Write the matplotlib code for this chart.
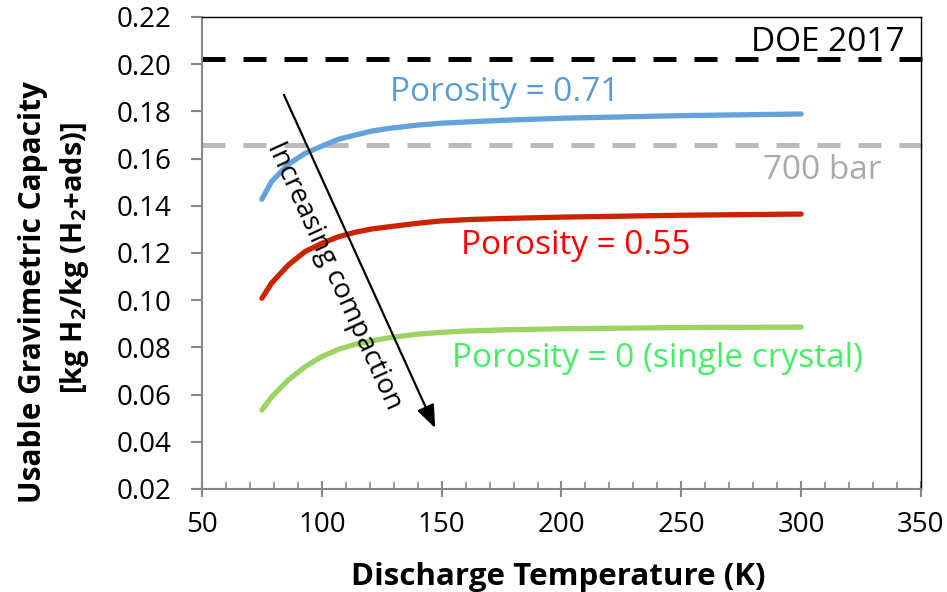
import numpy as np
import matplotlib
matplotlib.use('Agg')
import matplotlib.pyplot as plt
from matplotlib.ticker import MultipleLocator

#---------------------- DATA
temp     = [75, 79, 86, 93, 100, 107, 114, 121, 128, 140, 150, 162, 175, 200, 250, 300]
por_071  = [0.1428, 0.1502, 0.1576, 0.1622, 0.1653, 0.1682, 0.1700, 0.1717, 0.1728, 0.1742,
            0.1750, 0.1756, 0.1762, 0.1771, 0.1782, 0.1789]
por_055  = [0.1008, 0.1072, 0.1149, 0.1206, 0.1241, 0.1269, 0.1288, 0.1302, 0.1311, 0.1326,
            0.1336, 0.1342, 0.1346, 0.1352, 0.1360, 0.1365]
por_000  = [0.0535, 0.0589, 0.0662, 0.0718, 0.0761, 0.0792, 0.0813, 0.0828, 0.0841, 0.0856,
            0.0864, 0.0870, 0.0874, 0.0879, 0.0884, 0.0886]

doe_2017 = 0.202
bar_700  = 0.1658

xticks = [50, 100, 150, 200, 250, 300, 350]
yticks = [0.02, 0.04, 0.06, 0.08, 0.10, 0.12, 0.14, 0.16, 0.18, 0.20, 0.22]

##------------------------PLOTTING
plt.rcParams['font.family'] = ['Open Sans', 'DejaVu Sans']
plt.rcParams['mathtext.fontset'] = 'custom'
plt.rcParams['mathtext.rm'] = 'Open Sans'
plt.rcParams['mathtext.bf'] = 'Open Sans:bold'

fig = plt.figure(figsize=(9.47, 5.92), dpi=100)
ax = fig.add_axes([0.2133, 0.174, 0.7592, 0.7973])

# reference lines
ax.axhline(doe_2017, xmin=0, xmax=1.006, color='black', lw=3.6,
           linestyle=(0, (4.6, 3.6)), clip_on=False)
ax.axhline(bar_700, xmin=0, xmax=1.006, color='#BBBBBB', lw=3.6,
           linestyle=(0, (4.6, 3.6)), clip_on=False)

# curves
ax.plot(temp, por_071, color='#64A2DC', lw=3.8, solid_capstyle='round', solid_joinstyle='round')
ax.plot(temp, por_055, color='#CC2200', lw=3.8, solid_capstyle='round', solid_joinstyle='round')
ax.plot(temp, por_000, color='#9BD463', lw=3.8, solid_capstyle='round', solid_joinstyle='round')

# annotations
ax.text(343.3, 0.2094, 'DOE 2017', ha='right', va='center', fontsize=24, color='black')
ax.text(309, 0.155, '700 bar', ha='center', va='center', fontsize=24, color='#AAAAAA')
ax.text(176.5, 0.1878, 'Porosity = 0.71', ha='center', va='center', fontsize=24, color='#5B9BD5')
ax.text(206, 0.123, 'Porosity = 0.55', ha='center', va='center', fontsize=24, color='#FF0000')
ax.text(240, 0.0755, 'Porosity = 0 (single crystal)', ha='center', va='center', fontsize=24, color='#44EE66')

ax.annotate('', xy=(147.3, 0.0458), xytext=(84.2, 0.187),
            arrowprops=dict(arrowstyle='-|>,head_length=1.4,head_width=0.55',
                            color='black', lw=1.6, shrinkA=0, shrinkB=0))
ax.text(105, 0.1105, 'Increasing compaction', ha='center', va='center',
        rotation=-65.5, rotation_mode='anchor', fontsize=20, color='black')

# axes
ax.set_xlim(50, 350)
ax.set_ylim(0.02, 0.22)
ax.set_xticks(xticks)
ax.set_yticks(yticks)
ax.set_yticklabels(['%.2f' % v for v in yticks])
ax.xaxis.set_minor_locator(MultipleLocator(10))

ax.spines['left'].set_color('#888888');   ax.spines['bottom'].set_color('#888888')
ax.spines['left'].set_linewidth(1.5);     ax.spines['bottom'].set_linewidth(1.5)
ax.spines['top'].set_color('black');      ax.spines['right'].set_color('black')
ax.spines['top'].set_linewidth(1.0);      ax.spines['right'].set_linewidth(1.0)

ax.tick_params(axis='y', which='major', direction='out', length=8, width=1.5,
               color='#888888', pad=14, labelsize=20)
ax.tick_params(axis='x', which='major', direction='inout', length=11.5, width=1.5,
               color='#888888', pad=10, labelsize=20)
ax.tick_params(axis='x', which='minor', direction='in', length=5, width=1.2,
               color='#888888')
ax.tick_params(top=False, right=False)

fig.text(0.589, 0.012, 'Discharge Temperature (K)', ha='center', va='baseline',
         fontsize=22.5, fontweight='bold')
fig.text(0.035, 0.507, 'Usable Gravimetric Capacity', rotation=90, ha='center',
         va='center', fontsize=21.5, fontweight='bold')
fig.text(0.079, 0.564, r'[kg H$_\mathbf{2}$/kg (H$_\mathbf{2}$+ads)]', rotation=90, ha='center',
         va='center', fontsize=21, fontweight='bold')

plt.savefig('out.png', dpi=100)
